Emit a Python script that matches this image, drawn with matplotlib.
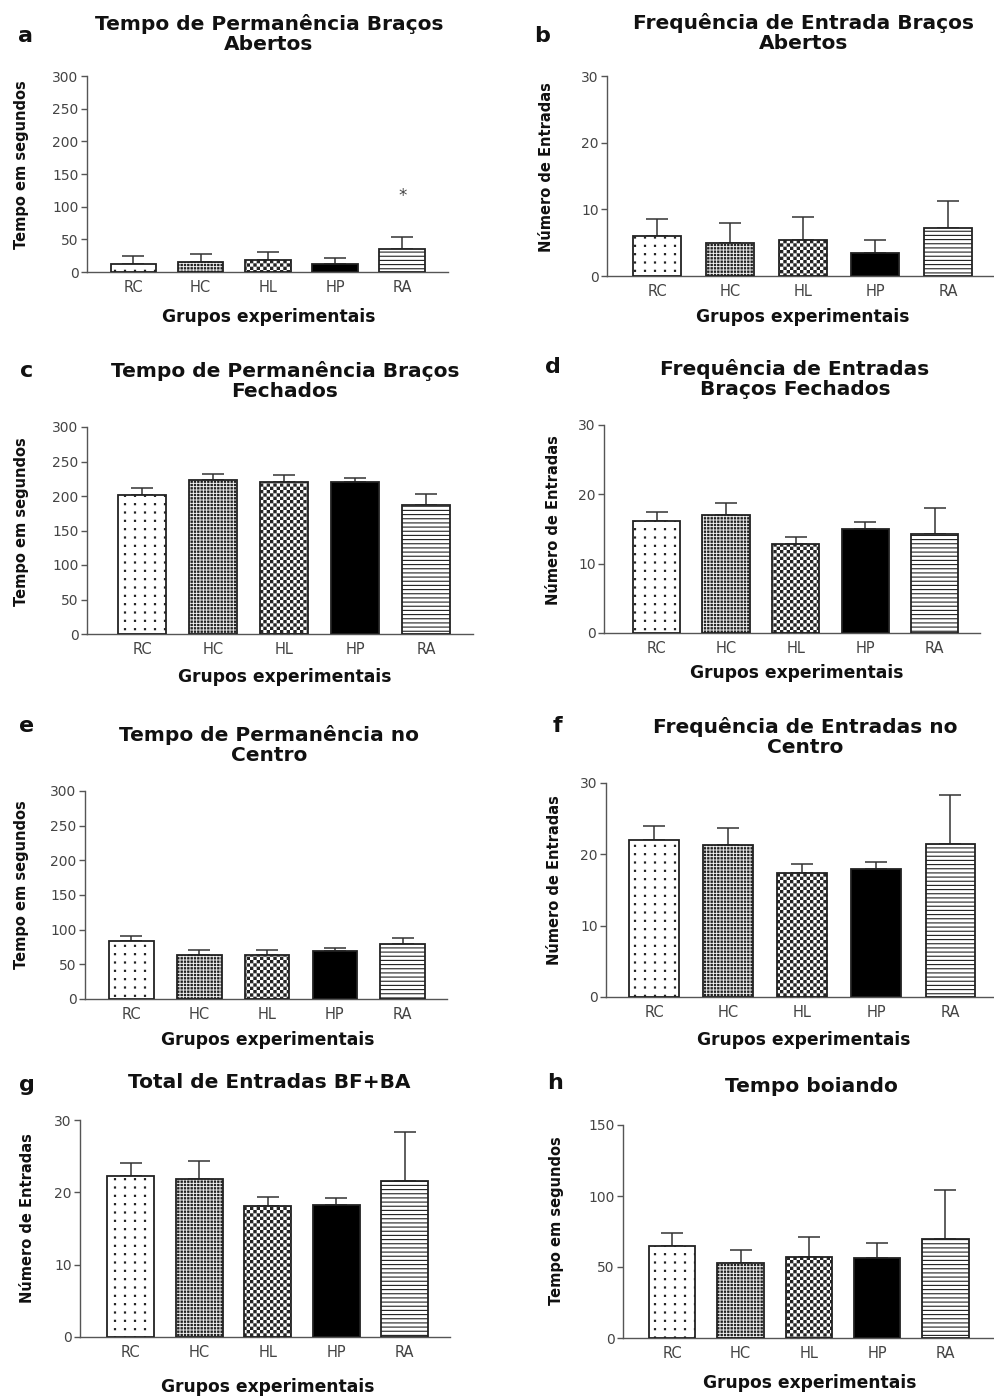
import numpy as np
import matplotlib
matplotlib.use("Agg")
import matplotlib.pyplot as plt
import matplotlib.hatch as mhatch
from matplotlib.path import Path

# ---------------- data ----------------
groups = ["RC", "HC", "HL", "HP", "RA"]

tempo_abertos = [13, 15, 18, 12, 35]
tempo_abertos_err = [12, 13, 12, 10, 19]

freq_abertos = [6.0, 5.0, 5.4, 3.5, 7.2]
freq_abertos_err = [2.5, 3.0, 3.4, 1.9, 4.0]

tempo_fechados = [202, 223, 220, 220, 187]
tempo_fechados_err = [9, 9, 10, 6, 16]

freq_fechados = [16.2, 17.0, 12.9, 15.0, 14.3]
freq_fechados_err = [1.3, 1.7, 0.9, 1.0, 3.8]

tempo_centro = [84, 64, 63, 69, 79]
tempo_centro_err = [7, 6, 8, 4, 9]

freq_centro = [22.0, 21.3, 17.4, 18.0, 21.4]
freq_centro_err = [2.0, 2.4, 1.3, 0.9, 6.9]

total_entradas = [22.2, 21.9, 18.1, 18.3, 21.5]
total_entradas_err = [1.9, 2.4, 1.3, 0.9, 6.9]

tempo_boiando = [65, 53, 57, 56, 70]
tempo_boiando_err = [9, 9, 14, 11, 34]

titles = [
    "Tempo de Permanência Braços\nAbertos",
    "Frequência de Entrada Braços\nAbertos",
    "Tempo de Permanência Braços\nFechados",
    "Frequência de Entradas\nBraços Fechados",
    "Tempo de Permanência no\nCentro",
    "Frequência de Entradas no\nCentro",
    "Total de Entradas BF+BA",
    "Tempo boiando",
]
letters = ["a", "b", "c", "d", "e", "f", "g", "h"]
ylabel_tempo = "Tempo em segundos"
ylabel_num = "Número de Entradas"
xlabel_txt = "Grupos experimentais"

# ---------------- custom hatch patterns ----------------
HLW_PT = 0.8
HLW = HLW_PT / 72.0  # in hatch-tile units (tile = 1 inch)

def _squares(cx, cy, half):
    sq = np.array([[-1, -1], [1, -1], [1, 1], [-1, 1], [-1, -1]], float) * half
    v = (np.stack([cx, cy], 1)[:, None, :] + sq[None]).reshape(-1, 2)
    c = np.full((len(cx), 5), Path.LINETO, dtype=Path.code_type)
    c[:, 0] = Path.MOVETO
    c[:, 4] = Path.CLOSEPOLY
    return v, c.ravel()

class SquareDots(mhatch.HatchPatternBase):
    """Sparse square grid of dots ('o')."""
    def __init__(self, hatch, density):
        k = hatch.count("o")
        self.nx, self.ny = 10 * k, 12 * k
        self.num_vertices = self.nx * self.ny * 5

    def set_vertices_and_codes(self, vertices, codes):
        xs = (np.arange(self.nx) + 0.5) / self.nx
        ys = (np.arange(self.ny) + 0.5) / self.ny
        X, Y = np.meshgrid(xs, ys)
        v, c = _squares(X.ravel(), Y.ravel(), 0.0055)
        vertices[:] = v
        codes[:] = c

class DenseDots(mhatch.HatchPatternBase):
    """Dense square grid of dots ('O')."""
    def __init__(self, hatch, density):
        k = hatch.count("O")
        self.n = 30 * k
        self.num_vertices = self.n * self.n * 5

    def set_vertices_and_codes(self, vertices, codes):
        xs = (np.arange(self.n) + 0.5) / self.n
        X, Y = np.meshgrid(xs, xs)
        v, c = _squares(X.ravel(), Y.ravel(), 0.0065)
        vertices[:] = v
        codes[:] = c

class Checker(mhatch.HatchPatternBase):
    """Checkerboard ('*')."""
    def __init__(self, hatch, density):
        k = hatch.count("*")
        self.n = 30 * k
        self.num_vertices = (self.n * self.n // 2) * 5

    def set_vertices_and_codes(self, vertices, codes):
        n = self.n
        I, J = np.meshgrid(np.arange(n), np.arange(n))
        m = ((I + J) % 2) == 0
        cx = (I[m] + 0.5) / n
        cy = (J[m] + 0.5) / n
        half = 0.5 / n - HLW / 2
        v, c = _squares(cx, cy, half)
        vertices[:] = v
        codes[:] = c

mhatch._hatch_types = [t for t in mhatch._hatch_types
                       if t not in (mhatch.SmallCircles, mhatch.LargeCircles, mhatch.Stars)] \
    + [SquareDots, DenseDots, Checker]

plt.rcParams["hatch.linewidth"] = HLW_PT
plt.rcParams["font.family"] = ["DejaVu Sans"]

hatches = ["o", "O", "*", "", "----"]
faces = ["white", "white", "white", "black", "white"]

# ---------------- layout ----------------
W, H = 995, 1396
fig = plt.figure(figsize=(W / 100, H / 100), dpi=100)
fig.patch.set_facecolor("white")

panels = [
    # values, errors, ylim, yticks, ylabel
    (tempo_abertos, tempo_abertos_err, 300, [0, 50, 100, 150, 200, 250, 300], ylabel_tempo),
    (freq_abertos, freq_abertos_err, 30, [0, 10, 20, 30], ylabel_num),
    (tempo_fechados, tempo_fechados_err, 300, [0, 50, 100, 150, 200, 250, 300], ylabel_tempo),
    (freq_fechados, freq_fechados_err, 30, [0, 10, 20, 30], ylabel_num),
    (tempo_centro, tempo_centro_err, 300, [0, 50, 100, 150, 200, 250, 300], ylabel_tempo),
    (freq_centro, freq_centro_err, 30, [0, 10, 20, 30], ylabel_num),
    (total_entradas, total_entradas_err, 30, [0, 10, 20, 30], ylabel_num),
    (tempo_boiando, tempo_boiando_err, 150, [0, 50, 100, 150], ylabel_tempo),
]

# axes box in pixels: left, right, top(ymax), bottom(y=0); xlim; bar width
boxes = [
    (87, 448, 76, 272, (-0.69, 4.68), 0.68),
    (607, 994, 76, 276, (-0.69, 4.63), 0.66),
    (87, 473, 427, 634, (-0.78, 4.66), 0.68),
    (604, 980, 425, 633, (-0.755, 4.65), 0.68),
    (85, 447, 791, 999, (-0.68, 4.65), 0.66),
    (606, 994, 783, 997, (-0.65, 4.59), 0.67),
    (80, 450, 1120, 1337, (-0.74, 4.66), 0.69),
    (623, 994, 1125, 1338, (-0.72, 4.71), 0.68),
]
title_pos = [(269, 34), (804, 33), (285, 381), (795, 379), (269, 745), (805, 737), (269, 1083), (811, 1087)]
letter_pos = [(26, 36), (542, 36), (27, 371), (553, 367), (27, 726), (557, 726), (27, 1085), (555, 1083)]
ylabel_pos = [(22, 165), (547, 167), (22, 522), (553, 520), (22, 885), (555, 880), (28, 1218), (557, 1221)]
xlabel_pos = [(269, 317), (803, 317), (285, 677), (797, 673), (268, 1040), (804, 1040), (268, 1387), (810, 1383)]

def fx(x):
    return x / W

def fy(y):
    return 1 - y / H

for i, (vals, errs, ymax, yticks, ylab) in enumerate(panels):
    l, r, t, b, xl, bw = boxes[i]
    ax = fig.add_axes([fx(l), fy(b), (r - l) / W, (b - t) / H])
    x = np.arange(len(groups))
    ax.errorbar(x, vals, yerr=[np.zeros(len(vals)), errs], fmt="none",
                ecolor="#333333", elinewidth=1.1, capsize=8, capthick=1.1, zorder=2)
    for j in range(len(groups)):
        ax.bar(x[j], vals[j], width=bw, color=faces[j], edgecolor="#222222",
               linewidth=1.3, hatch=hatches[j], zorder=3)
    ax.set_xlim(*xl)
    ax.set_ylim(0, ymax)
    ax.set_yticks(yticks)
    ax.set_xticks(x)
    ax.set_xticklabels(groups)
    for s in ("top", "right"):
        ax.spines[s].set_visible(False)
    for s in ("left", "bottom"):
        ax.spines[s].set_color("#555555")
        ax.spines[s].set_linewidth(1.0)
    ax.tick_params(axis="y", length=4, width=1.0, color="#555555", labelcolor="#444444",
                   labelsize=10, pad=2)
    ax.tick_params(axis="x", length=0, labelcolor="#444444", labelsize=10.5, pad=6)
    ax.set_facecolor("none")
    ax.margins(0)

    if i == 0:
        ax.text(4, 117, "*", ha="center", va="center", fontsize=12, color="#444444")

    fig.text(fx(title_pos[i][0]), fy(title_pos[i][1]), titles[i], ha="center", va="center",
             fontsize=14.5, fontweight="bold", color="#111111", linespacing=1.08)
    fig.text(fx(letter_pos[i][0]), fy(letter_pos[i][1]), letters[i], ha="center", va="center",
             fontsize=16, fontweight="bold", color="#111111")
    fig.text(fx(ylabel_pos[i][0]), fy(ylabel_pos[i][1]), ylab, ha="center", va="center",
             rotation=90, fontsize=10.5, fontweight="bold", color="#111111")
    fig.text(fx(xlabel_pos[i][0]), fy(xlabel_pos[i][1]), xlabel_txt, ha="center", va="center",
             fontsize=12.3, fontweight="bold", color="#111111")

fig.savefig("out.png", dpi=100, facecolor="white")
